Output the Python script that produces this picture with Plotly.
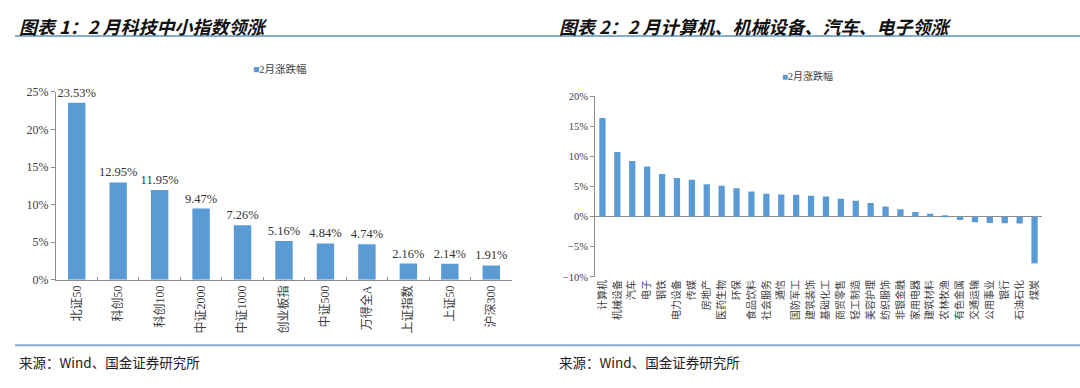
import plotly.graph_objects as go

# ---------------- data ----------------
idx_names = ["北证50", "科创50", "科创100", "中证2000", "中证1000", "创业板指",
             "中证500", "万得全A", "上证指数", "上证50", "沪深300"]
idx_chg = [23.53, 12.95, 11.95, 9.47, 7.26, 5.16, 4.84, 4.74, 2.16, 2.14, 1.91]

ind_names = ["计算机", "机械设备", "汽车", "电子", "钢铁", "电力设备", "传媒", "房地产",
             "医药生物", "环保", "食品饮料", "社会服务", "通信", "国防军工", "建筑装饰",
             "基础化工", "商贸零售", "轻工制造", "美容护理", "纺织服饰", "非银金融",
             "家用电器", "建筑材料", "农林牧渔", "有色金属", "交通运输", "公用事业",
             "银行", "石油石化", "煤炭"]
ind_chg = [16.4, 10.75, 9.25, 8.35, 7.1, 6.45, 6.15, 5.4, 5.15, 4.75, 4.2, 3.8, 3.7,
           3.65, 3.5, 3.35, 3.0, 2.65, 2.3, 1.7, 1.25, 0.78, 0.5, 0.15, -0.55, -0.93,
           -1.03, -1.08, -1.14, -7.75]

series_name = "2月涨跌幅"
title_left = "图表 1：2 月科技中小指数领涨"
title_right = "图表 2：2 月计算机、机械设备、汽车、电子领涨"
source_text = "来源：Wind、国金证券研究所"

# ---------------- layout helpers ----------------
W, H = 1080, 388


def fx(p):
    return p / W


def fy(p):
    return 1 - p / H


BAR = "#5B9BD5"
AXC = "#8C8C8C"
TXT = "#404040"
SERIF = "Liberation Serif, Times New Roman, Noto Sans CJK SC, serif"
CJK = "Noto Sans CJK SC, sans-serif"
RULE = "#86ADD0"

fig = go.Figure()

fig.add_trace(go.Bar(
    x=idx_names, y=idx_chg, xaxis="x", yaxis="y",
    marker=dict(color=BAR, line=dict(width=0)),
    text=[f"{v:.2f}%" for v in idx_chg], textposition="outside",
    constraintext="none",
    textfont=dict(family=SERIF, size=12.5, color="#333333"),
    cliponaxis=False, showlegend=False, name=series_name,
))

fig.add_trace(go.Bar(
    x=ind_names, y=ind_chg, xaxis="x2", yaxis="y2",
    marker=dict(color=BAR, line=dict(width=0)),
    showlegend=False, name=series_name,
))

fig.update_layout(
    width=W, height=H,
    margin=dict(l=0, r=0, t=0, b=0),
    paper_bgcolor="white", plot_bgcolor="white",
    bargap=0.58,
    xaxis=dict(
        domain=[fx(56), fx(512)], anchor="y", type="category",
        showline=True, linecolor=AXC, linewidth=1,
        ticks="inside", tickson="boundaries", ticklen=3, tickcolor=AXC,
        tickangle=-90, tickfont=dict(family=SERIF, size=12, color=TXT),
        showgrid=False, fixedrange=True,
    ),
    yaxis=dict(
        domain=[fy(283), fy(88)], anchor="x", range=[0, 25], dtick=5,
        ticksuffix="%", showgrid=False, zeroline=False,
        showline=True, linecolor=AXC, linewidth=1,
        ticks="outside", ticklen=4, tickcolor=AXC,
        tickfont=dict(family=SERIF, size=12, color=TXT),
    ),
    xaxis2=dict(
        domain=[fx(595), fx(1042)], anchor="y2", type="category",
        showline=False, ticks="", tickangle=-90,
        tickfont=dict(family=SERIF, size=10, color=TXT),
        showgrid=False,
    ),
    yaxis2=dict(
        domain=[fy(280), fy(92.7)], anchor="x2", range=[-10, 20], dtick=5,
        ticksuffix="%", showgrid=False,
        zeroline=True, zerolinecolor=AXC, zerolinewidth=1,
        showline=True, linecolor=AXC, linewidth=1,
        ticks="outside", ticklen=4, tickcolor=AXC,
        tickfont=dict(family=SERIF, size=10.5, color=TXT),
    ),
    xaxis3=dict(
        domain=[fx(595), fx(1042)], overlaying="x2", anchor="free",
        position=fy(217.3), range=[0, len(ind_names)],
        tickmode="linear", tick0=0, dtick=1,
        showline=False, ticks="inside", ticklen=3, tickcolor=AXC,
        showticklabels=False, showgrid=False, zeroline=False,
    ),
)

# title / source rules
fig.add_shape(type="line", xref="paper", yref="paper",
              x0=fx(15), x1=1, y0=fy(30), y1=fy(30),
              line=dict(color=RULE, width=2))
fig.add_shape(type="line", xref="paper", yref="paper",
              x0=fx(15), x1=1, y0=fy(351), y1=fy(351),
              line=dict(color=RULE, width=2))

title_font = dict(family=CJK, size=18, color="#111111", weight="bold", style="italic")
src_font = dict(family=CJK, size=13.5, color="#222222")
leg_font = dict(family=SERIF, size=10.5, color=TXT)

annos = [
    dict(text=title_left, x=fx(17), y=fy(20), xanchor="left", yanchor="middle", font=title_font),
    dict(text=title_right, x=fx(557), y=fy(20), xanchor="left", yanchor="middle", font=title_font),
    dict(text=source_text, x=fx(17), y=fy(368), xanchor="left", yanchor="middle", font=src_font),
    dict(text=source_text, x=fx(557), y=fy(368), xanchor="left", yanchor="middle", font=src_font),
    dict(text=f"<span style='color:{BAR}'>■</span>{series_name}", x=fx(251), y=fy(64),
         xanchor="left", yanchor="middle", font=leg_font),
    dict(text=f"<span style='color:{BAR}'>■</span>{series_name}", x=fx(780), y=fy(72),
         xanchor="left", yanchor="middle", font=dict(family=SERIF, size=10, color=TXT)),
]
for a in annos:
    fig.add_annotation(xref="paper", yref="paper", showarrow=False, **a)

fig.write_html(
    "out.html",
    config={"displayModeBar": False},
    post_script="document.body.style.margin='0';document.body.style.overflow='hidden';",
)
